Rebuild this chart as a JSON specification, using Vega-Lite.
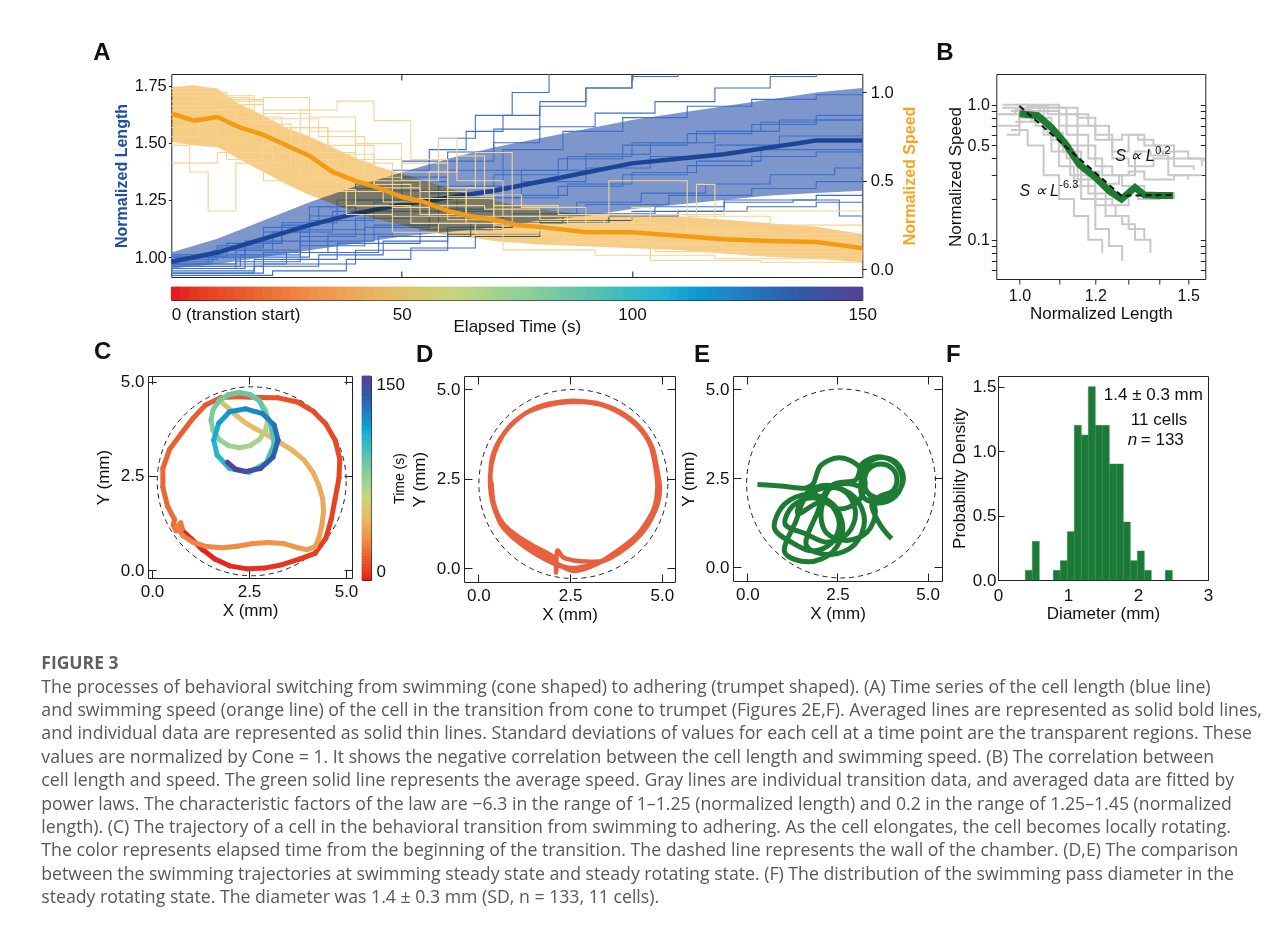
{
"$schema": "https://vega.github.io/schema/vega-lite/v6.json",
"background": "white",
"padding": {"left": 41, "top": 40, "right": 5, "bottom": 5},
"config": {
  "font": "Liberation Sans",
  "view": {"stroke": "#222222", "strokeWidth": 1},
  "axis": {"labelFontSize": 17, "titleFontSize": 17, "titleFontWeight": "normal", "labelColor": "#111111", "titleColor": "#111111", "domain": false, "grid": false, "tickColor": "#222222", "labelFlush": false, "labelOverlap": false},
  "title": {"fontSize": 24, "fontWeight": "bold", "anchor": "start", "frame": "group", "color": "#111111", "baseline": "alphabetic"}
},
"datasets": {
  "blueband": [
    {"t":0,"lo":0.95,"hi":1.02,"m":0.98},{"t":10,"lo":0.97,"hi":1.08,"m":1.02},{"t":20,"lo":1.0,"hi":1.16,"m":1.08},{"t":30,"lo":1.03,"hi":1.24,"m":1.14},
    {"t":40,"lo":1.06,"hi":1.31,"m":1.19},{"t":50,"lo":1.09,"hi":1.37,"m":1.23},{"t":60,"lo":1.11,"hi":1.43,"m":1.26},{"t":70,"lo":1.13,"hi":1.48,"m":1.29},
    {"t":80,"lo":1.16,"hi":1.52,"m":1.33},{"t":90,"lo":1.18,"hi":1.56,"m":1.37},{"t":100,"lo":1.21,"hi":1.6,"m":1.41},{"t":110,"lo":1.23,"hi":1.63,"m":1.43},
    {"t":120,"lo":1.25,"hi":1.66,"m":1.45},{"t":130,"lo":1.27,"hi":1.69,"m":1.48},{"t":140,"lo":1.28,"hi":1.72,"m":1.51},{"t":150,"lo":1.29,"hi":1.74,"m":1.51}
  ],
  "orangeband": [
    {"t":0,"lo":0.72,"hi":1.03,"m":0.88},{"t":5,"lo":0.7,"hi":1.04,"m":0.84},{"t":10,"lo":0.69,"hi":1.02,"m":0.86},{"t":15,"lo":0.62,"hi":0.93,"m":0.8},
    {"t":20,"lo":0.55,"hi":0.87,"m":0.76},{"t":25,"lo":0.48,"hi":0.8,"m":0.7},{"t":30,"lo":0.42,"hi":0.75,"m":0.64},{"t":35,"lo":0.37,"hi":0.69,"m":0.55},
    {"t":40,"lo":0.32,"hi":0.63,"m":0.5},{"t":45,"lo":0.28,"hi":0.58,"m":0.46},{"t":50,"lo":0.25,"hi":0.54,"m":0.41},{"t":55,"lo":0.22,"hi":0.5,"m":0.38},
    {"t":60,"lo":0.19,"hi":0.46,"m":0.33},{"t":65,"lo":0.18,"hi":0.42,"m":0.3},{"t":70,"lo":0.16,"hi":0.39,"m":0.28},{"t":75,"lo":0.15,"hi":0.36,"m":0.25},
    {"t":80,"lo":0.14,"hi":0.34,"m":0.24},{"t":90,"lo":0.13,"hi":0.31,"m":0.21},{"t":100,"lo":0.12,"hi":0.3,"m":0.21},{"t":110,"lo":0.11,"hi":0.3,"m":0.19},
    {"t":120,"lo":0.09,"hi":0.28,"m":0.17},{"t":130,"lo":0.07,"hi":0.26,"m":0.16},{"t":140,"lo":0.06,"hi":0.24,"m":0.155},{"t":150,"lo":0.04,"hi":0.2,"m":0.12}
  ],
  "bluelines": [
    {"id":1,"t":0,"v":0.97},{"id":1,"t":8,"v":1.0},{"id":1,"t":16,"v":1.06},{"id":1,"t":24,"v":1.14},{"id":1,"t":32,"v":1.22},{"id":1,"t":40,"v":1.3},{"id":1,"t":48,"v":1.38},{"id":1,"t":56,"v":1.47},{"id":1,"t":64,"v":1.55},{"id":1,"t":72,"v":1.62},{"id":1,"t":80,"v":1.68},{"id":1,"t":90,"v":1.74},{"id":1,"t":100,"v":1.79},{"id":1,"t":110,"v":1.83},
    {"id":2,"t":0,"v":1.0},{"id":2,"t":10,"v":1.04},{"id":2,"t":20,"v":1.11},{"id":2,"t":30,"v":1.18},{"id":2,"t":40,"v":1.25},{"id":2,"t":50,"v":1.33},{"id":2,"t":60,"v":1.42},{"id":2,"t":70,"v":1.5},{"id":2,"t":80,"v":1.57},{"id":2,"t":92,"v":1.63},{"id":2,"t":105,"v":1.68},{"id":2,"t":118,"v":1.74},{"id":2,"t":130,"v":1.79},{"id":2,"t":140,"v":1.82},
    {"id":3,"t":0,"v":0.96},{"id":3,"t":15,"v":1.01},{"id":3,"t":28,"v":1.09},{"id":3,"t":40,"v":1.17},{"id":3,"t":52,"v":1.24},{"id":3,"t":64,"v":1.31},{"id":3,"t":76,"v":1.38},{"id":3,"t":90,"v":1.45},{"id":3,"t":104,"v":1.5},{"id":3,"t":118,"v":1.55},{"id":3,"t":132,"v":1.6},{"id":3,"t":150,"v":1.62},
    {"id":4,"t":0,"v":0.95},{"id":4,"t":14,"v":0.98},{"id":4,"t":28,"v":1.05},{"id":4,"t":42,"v":1.13},{"id":4,"t":56,"v":1.2},{"id":4,"t":70,"v":1.26},{"id":4,"t":84,"v":1.31},{"id":4,"t":98,"v":1.36},{"id":4,"t":112,"v":1.4},{"id":4,"t":126,"v":1.44},{"id":4,"t":140,"v":1.46},{"id":4,"t":150,"v":1.47},
    {"id":5,"t":0,"v":0.93},{"id":5,"t":18,"v":0.96},{"id":5,"t":32,"v":1.01},{"id":5,"t":46,"v":1.07},{"id":5,"t":60,"v":1.13},{"id":5,"t":74,"v":1.19},{"id":5,"t":88,"v":1.24},{"id":5,"t":102,"v":1.28},{"id":5,"t":116,"v":1.32},{"id":5,"t":130,"v":1.36},{"id":5,"t":144,"v":1.39},{"id":5,"t":150,"v":1.4},
    {"id":6,"t":0,"v":0.92},{"id":6,"t":22,"v":0.94},{"id":6,"t":38,"v":0.99},{"id":6,"t":52,"v":1.04},{"id":6,"t":66,"v":1.09},{"id":6,"t":80,"v":1.15},{"id":6,"t":95,"v":1.18},{"id":6,"t":110,"v":1.2},{"id":6,"t":125,"v":1.22},{"id":6,"t":140,"v":1.24},{"id":6,"t":150,"v":1.24},
    {"id":7,"t":0,"v":0.98},{"id":7,"t":9,"v":1.03},{"id":7,"t":22,"v":1.11},{"id":7,"t":35,"v":1.2},{"id":7,"t":48,"v":1.29},{"id":7,"t":60,"v":1.38},{"id":7,"t":72,"v":1.47},{"id":7,"t":85,"v":1.55},{"id":7,"t":98,"v":1.61},{"id":7,"t":112,"v":1.66},{"id":7,"t":126,"v":1.69},{"id":7,"t":140,"v":1.71},{"id":7,"t":150,"v":1.72},
    {"id":8,"t":0,"v":1.01},{"id":8,"t":16,"v":1.07},{"id":8,"t":30,"v":1.16},{"id":8,"t":44,"v":1.24},{"id":8,"t":58,"v":1.31},{"id":8,"t":72,"v":1.38},{"id":8,"t":86,"v":1.44},{"id":8,"t":100,"v":1.5},{"id":8,"t":114,"v":1.55},{"id":8,"t":128,"v":1.59},{"id":8,"t":140,"v":1.62},{"id":8,"t":150,"v":1.63},
    {"id":9,"t":0,"v":0.97},{"id":9,"t":25,"v":1.02},{"id":9,"t":45,"v":1.09},{"id":9,"t":65,"v":1.15},{"id":9,"t":85,"v":1.19},{"id":9,"t":105,"v":1.22},{"id":9,"t":120,"v":1.24},{"id":9,"t":135,"v":1.25},{"id":9,"t":145,"v":1.18},{"id":9,"t":150,"v":1.18},
    {"id":10,"t":0,"v":0.94},{"id":10,"t":18,"v":0.99},{"id":10,"t":36,"v":1.06},{"id":10,"t":54,"v":1.12},{"id":10,"t":72,"v":1.18},{"id":10,"t":90,"v":1.23},{"id":10,"t":108,"v":1.27},{"id":10,"t":126,"v":1.3},{"id":10,"t":140,"v":1.33},{"id":10,"t":150,"v":1.35},
    {"id":11,"t":0,"v":1.0},{"id":11,"t":12,"v":1.06},{"id":11,"t":24,"v":1.15},{"id":11,"t":36,"v":1.25},{"id":11,"t":48,"v":1.35},{"id":11,"t":60,"v":1.46},{"id":11,"t":70,"v":1.56},{"id":11,"t":80,"v":1.66},{"id":11,"t":90,"v":1.74},{"id":11,"t":100,"v":1.8},
    {"id":12,"t":0,"v":0.96},{"id":12,"t":20,"v":1.02},{"id":12,"t":34,"v":1.1},{"id":12,"t":48,"v":1.18},{"id":12,"t":62,"v":1.26},{"id":12,"t":76,"v":1.33},{"id":12,"t":90,"v":1.39},{"id":12,"t":104,"v":1.44},{"id":12,"t":118,"v":1.49},{"id":12,"t":132,"v":1.53},{"id":12,"t":150,"v":1.56},
    {"id":13,"t":0,"v":0.99},{"id":13,"t":10,"v":1.05},{"id":13,"t":20,"v":1.13},{"id":13,"t":30,"v":1.22},{"id":13,"t":40,"v":1.32},{"id":13,"t":50,"v":1.42},{"id":13,"t":58,"v":1.52},{"id":13,"t":66,"v":1.62},{"id":13,"t":74,"v":1.72},{"id":13,"t":82,"v":1.8},
    {"id":14,"t":0,"v":0.95},{"id":14,"t":16,"v":1.0},{"id":14,"t":30,"v":1.07},{"id":14,"t":44,"v":1.14},{"id":14,"t":58,"v":1.21},{"id":14,"t":72,"v":1.27},{"id":14,"t":86,"v":1.32},{"id":14,"t":100,"v":1.37},{"id":14,"t":114,"v":1.42},{"id":14,"t":128,"v":1.47},{"id":14,"t":150,"v":1.52},
    {"id":15,"t":0,"v":0.97},{"id":15,"t":14,"v":1.03},{"id":15,"t":28,"v":1.12},{"id":15,"t":42,"v":1.2},{"id":15,"t":56,"v":1.28},{"id":15,"t":70,"v":1.36},{"id":15,"t":84,"v":1.43},{"id":15,"t":98,"v":1.49},{"id":15,"t":112,"v":1.54},{"id":15,"t":126,"v":1.58},{"id":15,"t":140,"v":1.6},{"id":15,"t":150,"v":1.61},
    {"id":16,"t":0,"v":0.93},{"id":16,"t":20,"v":0.97},{"id":16,"t":40,"v":1.03},{"id":16,"t":60,"v":1.1},{"id":16,"t":80,"v":1.16},{"id":16,"t":100,"v":1.2},{"id":16,"t":120,"v":1.25},{"id":16,"t":140,"v":1.27},{"id":16,"t":150,"v":1.28}
  ],
  "orangelines": [
    {"id":1,"t":0,"v":0.95},{"id":1,"t":6,"v":0.9},{"id":1,"t":14,"v":0.84},{"id":1,"t":22,"v":0.6},{"id":1,"t":26,"v":0.8},{"id":1,"t":34,"v":0.7},{"id":1,"t":44,"v":0.5},{"id":1,"t":54,"v":0.44},{"id":1,"t":64,"v":0.3},{"id":1,"t":74,"v":0.25},{"id":1,"t":90,"v":0.2},{"id":1,"t":110,"v":0.15},{"id":1,"t":130,"v":0.12},{"id":1,"t":150,"v":0.1},
    {"id":2,"t":0,"v":0.7},{"id":2,"t":4,"v":0.55},{"id":2,"t":8,"v":0.33},{"id":2,"t":14,"v":0.6},{"id":2,"t":22,"v":0.85},{"id":2,"t":32,"v":0.75},{"id":2,"t":42,"v":0.52},{"id":2,"t":50,"v":0.55},{"id":2,"t":60,"v":0.4},{"id":2,"t":70,"v":0.22},{"id":2,"t":85,"v":0.16},{"id":2,"t":105,"v":0.1},{"id":2,"t":125,"v":0.08},{"id":2,"t":150,"v":0.05},
    {"id":3,"t":0,"v":1.0},{"id":3,"t":12,"v":0.95},{"id":3,"t":20,"v":0.7},{"id":3,"t":28,"v":0.9},{"id":3,"t":36,"v":0.95},{"id":3,"t":44,"v":0.84},{"id":3,"t":52,"v":0.62},{"id":3,"t":60,"v":0.46},{"id":3,"t":66,"v":0.66},{"id":3,"t":74,"v":0.3},{"id":3,"t":86,"v":0.26},{"id":3,"t":105,"v":0.21},{"id":3,"t":125,"v":0.18},{"id":3,"t":150,"v":0.15},
    {"id":4,"t":0,"v":0.98},{"id":4,"t":9,"v":0.9},{"id":4,"t":18,"v":0.76},{"id":4,"t":28,"v":0.52},{"id":4,"t":38,"v":0.36},{"id":4,"t":48,"v":0.3},{"id":4,"t":56,"v":0.55},{"id":4,"t":62,"v":0.64},{"id":4,"t":68,"v":0.42},{"id":4,"t":76,"v":0.35},{"id":4,"t":90,"v":0.3},{"id":4,"t":95,"v":0.5},{"id":4,"t":110,"v":0.5},{"id":4,"t":112,"v":0.3},{"id":4,"t":130,"v":0.25},{"id":4,"t":150,"v":0.2},
    {"id":5,"t":0,"v":0.9},{"id":5,"t":14,"v":0.86},{"id":5,"t":24,"v":0.8},{"id":5,"t":34,"v":0.56},{"id":5,"t":44,"v":0.46},{"id":5,"t":54,"v":0.31},{"id":5,"t":64,"v":0.26},{"id":5,"t":80,"v":0.21},{"id":5,"t":100,"v":0.18},{"id":5,"t":112,"v":0.3},{"id":5,"t":114,"v":0.48},{"id":5,"t":118,"v":0.2},{"id":5,"t":135,"v":0.16},{"id":5,"t":150,"v":0.13},
    {"id":6,"t":0,"v":0.6},{"id":6,"t":10,"v":0.66},{"id":6,"t":20,"v":0.5},{"id":6,"t":30,"v":0.45},{"id":6,"t":40,"v":0.36},{"id":6,"t":52,"v":0.26},{"id":6,"t":66,"v":0.2},{"id":6,"t":84,"v":0.15},{"id":6,"t":104,"v":0.05},{"id":6,"t":128,"v":0.04},{"id":6,"t":150,"v":0.02},
    {"id":7,"t":0,"v":0.85},{"id":7,"t":12,"v":0.93},{"id":7,"t":20,"v":0.97},{"id":7,"t":30,"v":0.86},{"id":7,"t":40,"v":0.71},{"id":7,"t":50,"v":0.6},{"id":7,"t":60,"v":0.41},{"id":7,"t":70,"v":0.36},{"id":7,"t":84,"v":0.31},{"id":7,"t":100,"v":0.31},{"id":7,"t":120,"v":0.33},{"id":7,"t":150,"v":0.3},
    {"id":8,"t":0,"v":1.02},{"id":8,"t":8,"v":0.97},{"id":8,"t":17,"v":0.66},{"id":8,"t":27,"v":0.56},{"id":8,"t":38,"v":0.31},{"id":8,"t":48,"v":0.21},{"id":8,"t":58,"v":0.26},{"id":8,"t":72,"v":0.11},{"id":8,"t":92,"v":0.08},{"id":8,"t":118,"v":0.06},{"id":8,"t":150,"v":0.05},
    {"id":9,"t":0,"v":0.8},{"id":9,"t":10,"v":0.74},{"id":9,"t":20,"v":0.88},{"id":9,"t":30,"v":0.66},{"id":9,"t":40,"v":0.6},{"id":9,"t":48,"v":0.35},{"id":9,"t":56,"v":0.3},{"id":9,"t":64,"v":0.46},{"id":9,"t":70,"v":0.25},{"id":9,"t":82,"v":0.2},{"id":9,"t":100,"v":0.14},{"id":9,"t":120,"v":0.12},{"id":9,"t":150,"v":0.08},
    {"id":10,"t":0,"v":0.92},{"id":10,"t":10,"v":0.98},{"id":10,"t":18,"v":0.82},{"id":10,"t":26,"v":0.62},{"id":10,"t":36,"v":0.44},{"id":10,"t":46,"v":0.38},{"id":10,"t":56,"v":0.36},{"id":10,"t":68,"v":0.34},{"id":10,"t":80,"v":0.28},{"id":10,"t":94,"v":0.24},{"id":10,"t":110,"v":0.22},{"id":10,"t":130,"v":0.2},{"id":10,"t":150,"v":0.18},
    {"id":11,"t":0,"v":0.75},{"id":11,"t":6,"v":0.85},{"id":11,"t":12,"v":0.62},{"id":11,"t":20,"v":0.7},{"id":11,"t":30,"v":0.52},{"id":11,"t":38,"v":0.65},{"id":11,"t":44,"v":0.48},{"id":11,"t":52,"v":0.4},{"id":11,"t":60,"v":0.28},{"id":11,"t":72,"v":0.22},{"id":11,"t":85,"v":0.18},{"id":11,"t":100,"v":0.35},{"id":11,"t":104,"v":0.15},{"id":11,"t":125,"v":0.1},{"id":11,"t":150,"v":0.06},
    {"id":12,"t":0,"v":1.02},{"id":12,"t":10,"v":0.96},{"id":12,"t":20,"v":0.9},{"id":12,"t":30,"v":0.78},{"id":12,"t":40,"v":0.62},{"id":12,"t":50,"v":0.5},{"id":12,"t":58,"v":0.74},{"id":12,"t":62,"v":0.5},{"id":12,"t":72,"v":0.3},{"id":12,"t":90,"v":0.22},{"id":12,"t":110,"v":0.18},{"id":12,"t":130,"v":0.1},{"id":12,"t":150,"v":0.08}
  ],
  "cbar": [
    {"t0":0,"t1":2},{"t0":2,"t1":4},{"t0":4,"t1":6},{"t0":6,"t1":8},{"t0":8,"t1":10},{"t0":10,"t1":12},{"t0":12,"t1":14},{"t0":14,"t1":16},{"t0":16,"t1":18},{"t0":18,"t1":20},
    {"t0":20,"t1":22},{"t0":22,"t1":24},{"t0":24,"t1":26},{"t0":26,"t1":28},{"t0":28,"t1":30},{"t0":30,"t1":32},{"t0":32,"t1":34},{"t0":34,"t1":36},{"t0":36,"t1":38},{"t0":38,"t1":40},
    {"t0":40,"t1":42},{"t0":42,"t1":44},{"t0":44,"t1":46},{"t0":46,"t1":48},{"t0":48,"t1":50},{"t0":50,"t1":52},{"t0":52,"t1":54},{"t0":54,"t1":56},{"t0":56,"t1":58},{"t0":58,"t1":60},
    {"t0":60,"t1":62},{"t0":62,"t1":64},{"t0":64,"t1":66},{"t0":66,"t1":68},{"t0":68,"t1":70},{"t0":70,"t1":72},{"t0":72,"t1":74},{"t0":74,"t1":76},{"t0":76,"t1":78},{"t0":78,"t1":80},
    {"t0":80,"t1":82},{"t0":82,"t1":84},{"t0":84,"t1":86},{"t0":86,"t1":88},{"t0":88,"t1":90},{"t0":90,"t1":92},{"t0":92,"t1":94},{"t0":94,"t1":96},{"t0":96,"t1":98},{"t0":98,"t1":100},
    {"t0":100,"t1":102},{"t0":102,"t1":104},{"t0":104,"t1":106},{"t0":106,"t1":108},{"t0":108,"t1":110},{"t0":110,"t1":112},{"t0":112,"t1":114},{"t0":114,"t1":116},{"t0":116,"t1":118},{"t0":118,"t1":120},
    {"t0":120,"t1":122},{"t0":122,"t1":124},{"t0":124,"t1":126},{"t0":126,"t1":128},{"t0":128,"t1":130},{"t0":130,"t1":132},{"t0":132,"t1":134},{"t0":134,"t1":136},{"t0":136,"t1":138},{"t0":138,"t1":140},
    {"t0":140,"t1":142},{"t0":142,"t1":144},{"t0":144,"t1":146},{"t0":146,"t1":148},{"t0":148,"t1":150}
  ],
  "bgray": [
    {"id":1,"L":0.96,"S":0.95},{"id":1,"L":1.0,"S":1.0},{"id":1,"L":1.05,"S":0.9},{"id":1,"L":1.1,"S":0.7},{"id":1,"L":1.15,"S":0.5},{"id":1,"L":1.2,"S":0.35},{"id":1,"L":1.25,"S":0.3},{"id":1,"L":1.3,"S":0.32},{"id":1,"L":1.35,"S":0.28},{"id":1,"L":1.45,"S":0.3},{"id":1,"L":1.55,"S":0.3},
    {"id":2,"L":0.97,"S":0.85},{"id":2,"L":1.02,"S":0.95},{"id":2,"L":1.06,"S":0.6},{"id":2,"L":1.1,"S":0.35},{"id":2,"L":1.14,"S":0.25},{"id":2,"L":1.2,"S":0.18},{"id":2,"L":1.26,"S":0.15},{"id":2,"L":1.3,"S":0.12},{"id":2,"L":1.35,"S":0.1},
    {"id":3,"L":0.95,"S":0.7},{"id":3,"L":1.0,"S":0.9},{"id":3,"L":1.05,"S":0.95},{"id":3,"L":1.1,"S":0.85},{"id":3,"L":1.15,"S":0.7},{"id":3,"L":1.2,"S":0.55},{"id":3,"L":1.25,"S":0.45},{"id":3,"L":1.3,"S":0.6},{"id":3,"L":1.35,"S":0.5},{"id":3,"L":1.4,"S":0.45},{"id":3,"L":1.5,"S":0.4},{"id":3,"L":1.56,"S":0.38},
    {"id":4,"L":0.98,"S":0.9},{"id":4,"L":1.03,"S":0.8},{"id":4,"L":1.08,"S":0.55},{"id":4,"L":1.12,"S":0.4},{"id":4,"L":1.16,"S":0.2},{"id":4,"L":1.2,"S":0.12},{"id":4,"L":1.24,"S":0.09},{"id":4,"L":1.28,"S":0.07},
    {"id":5,"L":0.96,"S":1.0},{"id":5,"L":1.02,"S":0.98},{"id":5,"L":1.07,"S":0.85},{"id":5,"L":1.12,"S":0.6},{"id":5,"L":1.18,"S":0.4},{"id":5,"L":1.22,"S":0.3},{"id":5,"L":1.28,"S":0.25},{"id":5,"L":1.33,"S":0.2},{"id":5,"L":1.4,"S":0.22},{"id":5,"L":1.45,"S":0.2},
    {"id":6,"L":0.99,"S":0.75},{"id":6,"L":1.04,"S":0.7},{"id":6,"L":1.08,"S":0.45},{"id":6,"L":1.13,"S":0.3},{"id":6,"L":1.18,"S":0.22},{"id":6,"L":1.23,"S":0.15},{"id":6,"L":1.28,"S":0.13},{"id":6,"L":1.32,"S":0.1},{"id":6,"L":1.37,"S":0.08},
    {"id":7,"L":1.0,"S":0.95},{"id":7,"L":1.05,"S":1.0},{"id":7,"L":1.1,"S":0.95},{"id":7,"L":1.15,"S":0.8},{"id":7,"L":1.2,"S":0.6},{"id":7,"L":1.25,"S":0.4},{"id":7,"L":1.3,"S":0.35},{"id":7,"L":1.38,"S":0.4},{"id":7,"L":1.45,"S":0.35},{"id":7,"L":1.52,"S":0.33},
    {"id":8,"L":0.97,"S":0.6},{"id":8,"L":1.0,"S":0.8},{"id":8,"L":1.04,"S":0.9},{"id":8,"L":1.1,"S":0.5},{"id":8,"L":1.15,"S":0.28},{"id":8,"L":1.2,"S":0.2},{"id":8,"L":1.25,"S":0.18},{"id":8,"L":1.3,"S":0.25},{"id":8,"L":1.35,"S":0.22},
    {"id":9,"L":1.0,"S":0.9},{"id":9,"L":1.06,"S":0.95},{"id":9,"L":1.12,"S":0.85},{"id":9,"L":1.18,"S":0.7},{"id":9,"L":1.24,"S":0.55},{"id":9,"L":1.28,"S":0.6},{"id":9,"L":1.33,"S":0.55},{"id":9,"L":1.38,"S":0.5},{"id":9,"L":1.45,"S":0.4},{"id":9,"L":1.55,"S":0.35},
    {"id":10,"L":0.98,"S":0.65},{"id":10,"L":1.02,"S":0.5},{"id":10,"L":1.06,"S":0.3},{"id":10,"L":1.1,"S":0.2},{"id":10,"L":1.14,"S":0.15},{"id":10,"L":1.18,"S":0.1},{"id":10,"L":1.22,"S":0.08},
    {"id":11,"L":0.95,"S":0.85},{"id":11,"L":0.99,"S":0.92},{"id":11,"L":1.03,"S":0.75},{"id":11,"L":1.07,"S":0.62},{"id":11,"L":1.11,"S":0.45},{"id":11,"L":1.16,"S":0.32},{"id":11,"L":1.21,"S":0.26},{"id":11,"L":1.27,"S":0.3},{"id":11,"L":1.32,"S":0.45},{"id":11,"L":1.37,"S":0.42},{"id":11,"L":1.43,"S":0.3},{"id":11,"L":1.5,"S":0.28}
  ],
  "bgreen": [
    {"L":1.0,"S":0.86},{"L":1.045,"S":0.83},{"L":1.08,"S":0.68},{"L":1.118,"S":0.51},{"L":1.155,"S":0.36},{"L":1.2,"S":0.29},{"L":1.241,"S":0.23},{"L":1.278,"S":0.2},{"L":1.32,"S":0.244},{"L":1.35,"S":0.215},{"L":1.4,"S":0.213},{"L":1.447,"S":0.213}
  ],
  "bfit": [
    {"L":1.0,"S":0.98},{"L":1.278,"S":0.212},{"L":1.447,"S":0.215}
  ],
  "btext": [
    {"L":1.259,"S":0.419,"txt":"S ∝ L","k":"main"},{"L":1.386,"S":0.456,"txt":"0.2","k":"sup"},
    {"L":1.0,"S":0.2306,"txt":"S ∝ L","k":"main"},{"L":1.1007,"S":0.255,"txt":"-6.3","k":"sup"}
  ],
  "chamberC": [{"x":2.57,"y":2.36}],
  "chamberD": [{"x":2.59,"y":2.35}],
  "chamberE": [{"x":2.6,"y":2.35}],
  "ctraj": [
    {"t":0.0,"x":0.73,"y":1.1},{"t":0.7,"x":1.0,"y":0.85},{"t":1.3,"x":1.3,"y":0.55},{"t":2.0,"x":1.62,"y":0.3},{"t":2.6,"x":2.0,"y":0.12},{"t":3.3,"x":2.45,"y":0.04},
    {"t":3.9,"x":2.9,"y":0.06},{"t":4.6,"x":3.35,"y":0.15},{"t":5.2,"x":3.8,"y":0.3},{"t":5.9,"x":4.2,"y":0.45},{"t":6.5,"x":4.48,"y":0.85},{"t":7.2,"x":4.62,"y":1.35},
    {"t":7.8,"x":4.72,"y":1.9},{"t":8.5,"x":4.82,"y":2.45},{"t":9.1,"x":4.84,"y":2.95},{"t":9.8,"x":4.72,"y":3.45},{"t":10.4,"x":4.48,"y":3.88},{"t":11.1,"x":4.15,"y":4.22},
    {"t":11.7,"x":3.75,"y":4.46},{"t":12.4,"x":3.25,"y":4.57},{"t":13.0,"x":2.75,"y":4.58},{"t":13.7,"x":2.25,"y":4.6},{"t":14.3,"x":1.78,"y":4.58},{"t":15.0,"x":1.38,"y":4.38},
    {"t":15.6,"x":1.05,"y":4.02},{"t":16.3,"x":0.75,"y":3.62},{"t":16.9,"x":0.45,"y":3.2},{"t":17.6,"x":0.28,"y":2.7},{"t":18.2,"x":0.28,"y":2.2},{"t":18.9,"x":0.4,"y":1.7},
    {"t":19.5,"x":0.58,"y":1.35},{"t":20.5,"x":0.55,"y":1.2},{"t":21.5,"x":0.62,"y":1.05},{"t":22.5,"x":0.78,"y":1.1},{"t":23.5,"x":0.74,"y":1.26},{"t":24.5,"x":0.64,"y":1.16},
    {"t":25.5,"x":0.8,"y":0.92},{"t":26.5,"x":1.05,"y":0.75},{"t":27.5,"x":1.4,"y":0.63},{"t":28.5,"x":1.8,"y":0.6},{"t":29.5,"x":2.2,"y":0.64},{"t":30.5,"x":2.6,"y":0.71},
    {"t":31.5,"x":3.0,"y":0.74},{"t":32.5,"x":3.4,"y":0.71},{"t":33.5,"x":3.75,"y":0.6},{"t":34.5,"x":4.0,"y":0.55},{"t":35.5,"x":4.2,"y":0.62},{"t":36.5,"x":4.3,"y":0.85},
    {"t":37.5,"x":4.38,"y":1.2},{"t":38.5,"x":4.42,"y":1.55},{"t":39.5,"x":4.4,"y":1.9},{"t":40.5,"x":4.3,"y":2.25},{"t":41.5,"x":4.15,"y":2.6},{"t":42.5,"x":3.92,"y":2.92},
    {"t":43.5,"x":3.62,"y":3.18},{"t":44.5,"x":3.28,"y":3.4},{"t":45.5,"x":2.95,"y":3.6},{"t":46.5,"x":2.65,"y":3.76},{"t":47.5,"x":2.38,"y":3.93},{"t":48.5,"x":2.15,"y":4.12},
    {"t":49.5,"x":1.95,"y":4.32},{"t":52,"x":1.734,"y":4.496},{"t":54,"x":1.971,"y":4.655},{"t":56,"x":2.25,"y":4.71},{"t":58,"x":2.529,"y":4.655},{"t":60,"x":2.766,"y":4.496},
    {"t":62,"x":2.925,"y":4.26},{"t":64,"x":2.98,"y":3.98},{"t":66,"x":2.925,"y":3.7},{"t":68,"x":2.766,"y":3.464},{"t":70,"x":2.529,"y":3.305},{"t":72,"x":2.25,"y":3.25},
    {"t":74,"x":1.971,"y":3.305},{"t":76,"x":1.734,"y":3.464},{"t":78,"x":1.575,"y":3.7},{"t":80,"x":1.52,"y":3.98},{"t":82,"x":1.575,"y":4.26},{"t":84,"x":1.734,"y":4.496},
    {"t":85,"x":1.971,"y":4.655},{"t":86,"x":2.25,"y":4.71},{"t":87,"x":2.529,"y":4.655},{"t":88,"x":2.766,"y":4.496},{"t":90,"x":3.05,"y":3.9},{"t":93,"x":3.15,"y":3.35},
    {"t":96,"x":2.95,"y":2.85},{"t":99,"x":2.5,"y":2.6},{"t":102,"x":2.0,"y":2.7},{"t":105,"x":1.68,"y":3.05},{"t":108,"x":1.59,"y":3.45},{"t":112,"x":1.72,"y":3.9},
    {"t":116,"x":2.0,"y":4.2},{"t":120,"x":2.42,"y":4.28},{"t":124,"x":2.85,"y":4.15},{"t":128,"x":3.15,"y":3.85},{"t":132,"x":3.25,"y":3.45},{"t":136,"x":3.12,"y":3.0},
    {"t":140,"x":2.8,"y":2.7},{"t":144,"x":2.42,"y":2.62},{"t":147,"x":2.15,"y":2.68},{"t":150,"x":1.94,"y":2.87}
  ],
  "dtraj": [
    {"i":0,"x":2.6,"y":4.66},{"i":1,"x":3.3,"y":4.58},{"i":2,"x":3.9,"y":4.32},{"i":3,"x":4.4,"y":3.92},{"i":4,"x":4.72,"y":3.42},{"i":5,"x":4.85,"y":2.9},
    {"i":6,"x":4.93,"y":2.3},{"i":7,"x":4.85,"y":1.7},{"i":8,"x":4.55,"y":1.1},{"i":9,"x":4.1,"y":0.62},{"i":10,"x":3.6,"y":0.28},{"i":11,"x":3.05,"y":0.08},
    {"i":12,"x":2.55,"y":0.0},{"i":13,"x":2.15,"y":0.12},{"i":14,"x":1.6,"y":0.5},{"i":15,"x":1.0,"y":0.9},{"i":16,"x":0.6,"y":1.35},{"i":17,"x":0.4,"y":1.9},
    {"i":18,"x":0.33,"y":2.5},{"i":19,"x":0.38,"y":3.1},{"i":20,"x":0.6,"y":3.62},{"i":21,"x":0.95,"y":4.05},{"i":22,"x":1.4,"y":4.4},{"i":23,"x":1.95,"y":4.6},
    {"i":24,"x":2.6,"y":4.68},{"i":25,"x":3.25,"y":4.6},{"i":26,"x":3.88,"y":4.36},{"i":27,"x":4.38,"y":3.96},{"i":28,"x":4.7,"y":3.46},{"i":29,"x":4.86,"y":2.8},
    {"i":30,"x":4.95,"y":2.2},{"i":31,"x":4.82,"y":1.6},{"i":32,"x":4.45,"y":1.05},{"i":33,"x":4.0,"y":0.58},{"i":34,"x":3.45,"y":0.22},{"i":35,"x":2.95,"y":0.18},
    {"i":36,"x":2.35,"y":0.28},{"i":37,"x":2.15,"y":0.48},{"i":38,"x":2.12,"y":-0.12},{"i":39,"x":2.05,"y":0.3},{"i":40,"x":1.5,"y":0.62},{"i":41,"x":0.9,"y":1.02},
    {"i":42,"x":0.5,"y":1.5},{"i":43,"x":0.33,"y":2.2},{"i":44,"x":0.36,"y":2.9},{"i":45,"x":0.55,"y":3.5},{"i":46,"x":0.9,"y":4.02},{"i":47,"x":1.35,"y":4.36},
    {"i":48,"x":1.9,"y":4.56},{"i":49,"x":2.5,"y":4.64},{"i":50,"x":3.2,"y":4.62},{"i":51,"x":3.85,"y":4.34},{"i":52,"x":4.35,"y":3.95},{"i":53,"x":4.68,"y":3.45},
    {"i":54,"x":4.82,"y":2.85},{"i":55,"x":4.88,"y":2.25},{"i":56,"x":4.78,"y":1.65},{"i":57,"x":4.48,"y":1.12},{"i":58,"x":4.2,"y":0.8},{"i":59,"x":3.7,"y":0.42},
    {"i":60,"x":3.2,"y":0.1},{"i":61,"x":2.65,"y":-0.08},{"i":62,"x":2.25,"y":0.05},{"i":63,"x":1.75,"y":0.28},{"i":64,"x":1.1,"y":0.72},{"i":65,"x":0.62,"y":1.22},
    {"i":66,"x":0.42,"y":1.8},{"i":67,"x":0.36,"y":2.4}
  ],
  "etraj": [
    {"i":0,"x":0.28,"y":2.32},{"i":1,"x":0.65,"y":2.3},{"i":2,"x":1.0,"y":2.27},{"i":3,"x":1.35,"y":2.23},{"i":4,"x":1.6,"y":2.22},{"i":5,"x":1.83,"y":2.35},
    {"i":6,"x":2.04,"y":2.86},{"i":7,"x":2.55,"y":3.07},{"i":8,"x":3.06,"y":2.86},{"i":9,"x":3.27,"y":2.35},{"i":10,"x":3.06,"y":1.84},{"i":11,"x":2.55,"y":1.63},{"i":12,"x":2.04,"y":1.84},
    {"i":13,"x":1.4,"y":1.5},{"i":14,"x":1.63,"y":2.07},{"i":15,"x":2.2,"y":2.3},{"i":16,"x":2.77,"y":2.07},{"i":17,"x":3.0,"y":1.5},{"i":18,"x":2.77,"y":0.93},{"i":19,"x":2.2,"y":0.7},{"i":20,"x":1.63,"y":0.93},
    {"i":21,"x":1.05,"y":1.2},{"i":22,"x":1.27,"y":1.73},{"i":23,"x":1.8,"y":1.95},{"i":24,"x":2.33,"y":1.73},{"i":25,"x":2.55,"y":1.2},{"i":26,"x":2.33,"y":0.67},{"i":27,"x":1.8,"y":0.45},{"i":28,"x":1.27,"y":0.67},
    {"i":29,"x":0.75,"y":1.1},{"i":30,"x":1.03,"y":1.77},{"i":31,"x":1.7,"y":2.05},{"i":32,"x":2.37,"y":1.77},{"i":33,"x":2.65,"y":1.1},{"i":34,"x":2.37,"y":0.43},{"i":35,"x":1.7,"y":0.15},{"i":36,"x":1.03,"y":0.43},
    {"i":37,"x":1.35,"y":1.3},{"i":38,"x":1.63,"y":1.97},{"i":39,"x":2.3,"y":2.25},{"i":40,"x":2.97,"y":1.97},{"i":41,"x":3.25,"y":1.3},{"i":42,"x":2.97,"y":0.63},{"i":43,"x":2.3,"y":0.35},{"i":44,"x":1.63,"y":0.63},
    {"i":45,"x":1.95,"y":1.55},{"i":46,"x":2.18,"y":2.12},{"i":47,"x":2.75,"y":2.35},{"i":48,"x":3.32,"y":2.12},{"i":49,"x":3.55,"y":1.55},{"i":50,"x":3.32,"y":0.98},{"i":51,"x":2.75,"y":0.75},{"i":52,"x":2.18,"y":0.98},
    {"i":53,"x":2.05,"y":1.6},{"i":54,"x":2.35,"y":2.3},
    {"i":55,"x":3.0,"y":2.45},{"i":56,"x":3.19,"y":2.91},{"i":57,"x":3.65,"y":3.1},{"i":58,"x":4.11,"y":2.91},{"i":59,"x":4.3,"y":2.45},{"i":60,"x":4.11,"y":1.99},{"i":61,"x":3.65,"y":1.8},{"i":62,"x":3.19,"y":1.99},
    {"i":63,"x":3.17,"y":2.5},{"i":64,"x":3.34,"y":2.91},{"i":65,"x":3.75,"y":3.08},{"i":66,"x":4.16,"y":2.91},{"i":67,"x":4.33,"y":2.5},{"i":68,"x":4.16,"y":2.09},{"i":69,"x":3.75,"y":1.92},{"i":70,"x":3.34,"y":2.09},
    {"i":71,"x":3.25,"y":2.45},{"i":72,"x":3.38,"y":2.77},{"i":73,"x":3.7,"y":2.9},{"i":74,"x":4.02,"y":2.77},{"i":75,"x":4.15,"y":2.45},{"i":76,"x":4.02,"y":2.13},{"i":77,"x":3.7,"y":2.0},
    {"i":78,"x":3.45,"y":1.75},{"i":79,"x":3.62,"y":1.3},{"i":80,"x":3.82,"y":1.0},{"i":81,"x":4.0,"y":0.8}
  ],
  "fhist": [
    {"lo":0.39,"hi":0.49,"d":0.075},{"lo":0.49,"hi":0.59,"d":0.3},{"lo":0.79,"hi":0.89,"d":0.075},{"lo":0.89,"hi":0.99,"d":0.15},{"lo":0.99,"hi":1.09,"d":0.375},
    {"lo":1.09,"hi":1.19,"d":1.2},{"lo":1.19,"hi":1.29,"d":1.125},{"lo":1.29,"hi":1.39,"d":1.5},{"lo":1.39,"hi":1.49,"d":1.2},{"lo":1.49,"hi":1.59,"d":1.2},
    {"lo":1.59,"hi":1.69,"d":0.9},{"lo":1.69,"hi":1.79,"d":0.9},{"lo":1.79,"hi":1.89,"d":0.45},{"lo":1.89,"hi":1.99,"d":0.15},{"lo":1.99,"hi":2.09,"d":0.225},
    {"lo":2.09,"hi":2.19,"d":0.075},{"lo":2.39,"hi":2.49,"d":0.075}
  ],
  "ftext": [
    {"x":2.22,"y":1.434,"txt":"1.4 ± 0.3 mm","k":"c"},{"x":2.3,"y":1.24,"txt":"11 cells","k":"c"},{"x":1.99,"y":1.085,"txt":"n","k":"r"},{"x":2.04,"y":1.085,"txt":"= 133","k":"l"}
  ],
  "caption": [
    {"line":0,"col":0,"kind":"head","txt":"FIGURE 3"},
    {"line":1,"col":0,"kind":"body","txt":"The processes of behavioral switching from swimming (cone shaped) to adhering (trumpet shaped). (A) Time series of the cell length (blue line)"},
    {"line":2,"col":0,"kind":"body","txt":"and swimming speed (orange line) of the cell in the transition from cone to trumpet (Figures 2E,F). Averaged lines are represented as solid bold lines,"},
    {"line":3,"col":0,"kind":"body","txt":"and individual data are represented as solid thin lines. Standard deviations of values for each cell at a time point are the transparent regions. These"},
    {"line":4,"col":0,"kind":"body","txt":"values are normalized by Cone = 1. It shows the negative correlation between the cell length and swimming speed. (B) The correlation between"},
    {"line":5,"col":0,"kind":"body","txt":"cell length and speed. The green solid line represents the average speed. Gray lines are individual transition data, and averaged data are fitted by"},
    {"line":6,"col":0,"kind":"body","txt":"power laws. The characteristic factors of the law are −6.3 in the range of 1–1.25 (normalized length) and 0.2 in the range of 1.25–1.45 (normalized"},
    {"line":7,"col":0,"kind":"body","txt":"length). (C) The trajectory of a cell in the behavioral transition from swimming to adhering. As the cell elongates, the cell becomes locally rotating."},
    {"line":8,"col":0,"kind":"body","txt":"The color represents elapsed time from the beginning of the transition. The dashed line represents the wall of the chamber. (D,E) The comparison"},
    {"line":9,"col":0,"kind":"body","txt":"between the swimming trajectories at swimming steady state and steady rotating state. (F) The distribution of the swimming pass diameter in the"},
    {"line":10,"col":0,"kind":"body","txt":"steady rotating state. The diameter was 1.4 ± 0.3 mm (SD, n = 133, 11 cells)."}
  ]
},
"vconcat": [
  {
    "hconcat": [
      {"width": 1, "height": 1, "view": {"stroke": null}, "data": {"values": [{}]}, "mark": {"type": "point", "opacity": 0}},
      {
        "concat": [
          {
            "vconcat": [
              {
                "title": {"text": "A", "dx": -78, "offset": 9},
                "width": 691, "height": 203,
                "layer": [
                  {"layer": [
                    {"data": {"name": "blueband"}, "mark": {"type": "area", "color": "#6f8bc6", "opacity": 0.9},
                     "encoding": {
                       "x": {"field": "t", "type": "quantitative", "title": null, "scale": {"domain": [0, 150], "nice": false, "zero": false}, "axis": {"orient": "bottom", "values": [50, 100], "labels": false, "tickSize": -6}},
                       "y": {"field": "lo", "type": "quantitative", "title": "Normalized Length", "scale": {"domain": [0.913, 1.801], "nice": false, "zero": false}, "axis": {"values": [1, 1.25, 1.5, 1.75], "format": ".2f", "labelFontSize": 16.5, "tickSize": 3, "labelPadding": 2, "titlePadding": 5, "titleColor": "#1f4fa3", "titleFontWeight": "bold", "titleFontSize": 16}},
                       "y2": {"field": "hi"}
                     }},
                    {"data": {"name": "bluelines"}, "mark": {"type": "line", "interpolate": "step-after", "color": "#3d6fcb", "strokeWidth": 1.1, "clip": true},
                     "encoding": {"x": {"field": "t", "type": "quantitative", "title": null}, "y": {"field": "v", "type": "quantitative", "title": "Normalized Length"}, "detail": {"field": "id", "type": "nominal"}}},
                    {"data": {"name": "blueband"}, "mark": {"type": "line", "color": "#1d4496", "strokeWidth": 4.5},
                     "encoding": {"x": {"field": "t", "type": "quantitative", "title": null}, "y": {"field": "m", "type": "quantitative", "title": "Normalized Length"}}}
                  ]},
                  {"layer": [
                    {"data": {"name": "orangeband"}, "mark": {"type": "area", "color": "#f6c470", "opacity": 0.85, "blend": "multiply"},
                     "encoding": {
                       "x": {"field": "t", "type": "quantitative", "title": null, "scale": {"domain": [0, 150], "nice": false, "zero": false}, "axis": {"orient": "top", "values": [50, 100], "labels": false, "tickSize": -6}},
                       "y": {"field": "lo", "type": "quantitative", "title": "Normalized Speed", "scale": {"domain": [-0.043, 1.103], "nice": false, "zero": false}, "axis": {"orient": "right", "values": [0, 0.5, 1], "format": ".1f", "labelFontSize": 16.5, "tickSize": 4, "labelPadding": 4, "titlePadding": 8, "titleColor": "#f5a623", "titleFontWeight": "bold", "titleFontSize": 16, "titleAngle": 270, "titleBaseline": "top"}},
                       "y2": {"field": "hi"}
                     }},
                    {"data": {"name": "orangelines"}, "mark": {"type": "line", "interpolate": "step-after", "color": "#f6d393", "strokeWidth": 1.1, "clip": true},
                     "encoding": {"x": {"field": "t", "type": "quantitative", "title": null}, "y": {"field": "v", "type": "quantitative", "title": "Normalized Speed"}, "detail": {"field": "id", "type": "nominal"}}},
                    {"data": {"name": "orangeband"}, "mark": {"type": "line", "color": "#f39c12", "strokeWidth": 4.5},
                     "encoding": {"x": {"field": "t", "type": "quantitative", "title": null}, "y": {"field": "m", "type": "quantitative", "title": "Normalized Speed"}}}
                  ]}
                ],
                "resolve": {"scale": {"y": "independent"}, "axis": {"x": "independent"}}
              },
              {
                "width": 691, "height": 13,
                "data": {"name": "cbar"},
                "mark": {"type": "rect", "strokeWidth": 0.8},
                "encoding": {
                  "x": {"field": "t0", "type": "quantitative", "title": "Elapsed Time (s)", "scale": {"domain": [0, 150], "nice": false, "zero": false},
                        "axis": {"values": [0, 50, 100, 150], "ticks": false, "labelPadding": 6, "labelFontSize": 17, "titleFontSize": 17, "titlePadding": -4,
                                 "labelExpr": "datum.value == 0 ? '0 (transtion start)' : datum.label",
                                 "labelAlign": {"condition": {"test": "datum.value == 0", "value": "left"}, "value": "center"}}},
                  "x2": {"field": "t1"},
                  "color": {"field": "t0", "type": "quantitative", "legend": null, "scale": {"domain": [0, 15, 30, 45, 60, 75, 90, 105, 120, 135, 150], "range": ["#e41a1c", "#ec5a2e", "#f09048", "#e9b866", "#c8d47e", "#93cf98", "#5cc2ad", "#27b3d3", "#1f86c8", "#2f5aa8", "#553e92"]}},
                  "stroke": {"field": "t0", "type": "quantitative", "legend": null, "scale": {"domain": [0, 15, 30, 45, 60, 75, 90, 105, 120, 135, 150], "range": ["#e41a1c", "#ec5a2e", "#f09048", "#e9b866", "#c8d47e", "#93cf98", "#5cc2ad", "#27b3d3", "#1f86c8", "#2f5aa8", "#553e92"]}}
                }
              }
            ],
            "spacing": 7
          },
          {
            "title": {"text": "B", "dx": -60, "offset": 9},
            "width": 209, "height": 205,
            "layer": [
              {"layer": [
                {"data": {"name": "bgray"}, "mark": {"type": "line", "interpolate": "step-after", "color": "#c8c8c8", "strokeWidth": 2, "clip": true},
                 "encoding": {
                   "x": {"field": "L", "type": "quantitative", "title": "Normalized Length", "scale": {"type": "log", "domain": [0.946, 1.563], "nice": false},
                         "axis": {"values": [1, 1.1, 1.2, 1.3, 1.4, 1.5], "labelExpr": "(datum.value == 1 || datum.value == 1.2 || datum.value == 1.5) ? format(datum.value, '.1f') : ''", "labelFontSize": 16, "tickSize": 5, "labelPadding": 3, "titlePadding": 2}},
                   "y": {"field": "S", "type": "quantitative", "title": "Normalized Speed", "scale": {"type": "log", "domain": [0.0512, 1.69], "nice": false},
                         "axis": {"values": [0.06, 0.07, 0.08, 0.09, 0.1, 0.2, 0.3, 0.4, 0.5, 0.6, 0.7, 0.8, 0.9, 1], "labelExpr": "(datum.value == 1 || datum.value == 0.5 || datum.value == 0.1) ? format(datum.value, '.1f') : ''", "labelFontSize": 16, "tickSize": 5, "labelPadding": 2, "titlePadding": 3}},
                   "detail": {"field": "id", "type": "nominal"}
                 }},
                {"data": {"name": "bgreen"}, "mark": {"type": "line", "color": "#1e7b31", "strokeWidth": 7},
                 "encoding": {"x": {"field": "L", "type": "quantitative", "title": "Normalized Length"}, "y": {"field": "S", "type": "quantitative", "title": "Normalized Speed"}}},
                {"data": {"name": "bfit"}, "mark": {"type": "line", "color": "#111111", "strokeWidth": 2, "strokeDash": [6, 4]},
                 "encoding": {"x": {"field": "L", "type": "quantitative", "title": "Normalized Length"}, "y": {"field": "S", "type": "quantitative", "title": "Normalized Speed"}}},
                {"data": {"name": "btext"}, "transform": [{"filter": "datum.k == 'main'"}], "mark": {"type": "text", "align": "left", "baseline": "middle", "fontSize": 16, "fontStyle": "italic", "color": "#111111"},
                 "encoding": {"x": {"field": "L", "type": "quantitative", "title": "Normalized Length"}, "y": {"field": "S", "type": "quantitative", "title": "Normalized Speed"}, "text": {"field": "txt"}}},
                {"data": {"name": "btext"}, "transform": [{"filter": "datum.k == 'sup'"}], "mark": {"type": "text", "align": "left", "baseline": "middle", "fontSize": 11, "color": "#111111"},
                 "encoding": {"x": {"field": "L", "type": "quantitative", "title": "Normalized Length"}, "y": {"field": "S", "type": "quantitative", "title": "Normalized Speed"}, "text": {"field": "txt"}}}
              ]},
              {"data": {"name": "bfit"}, "mark": {"type": "point", "opacity": 0},
               "encoding": {
                 "x": {"field": "L", "type": "quantitative", "title": "Normalized Length"},
                 "y": {"field": "S", "type": "quantitative", "title": null, "scale": {"type": "log", "domain": [0.0512, 1.69], "nice": false},
                       "axis": {"orient": "right", "values": [0.06, 0.07, 0.08, 0.09, 0.1, 0.2, 0.3, 0.4, 0.5, 0.6, 0.7, 0.8, 0.9, 1], "labels": false, "tickSize": -5}}
               }}
            ],
            "resolve": {"axis": {"y": "independent"}}
          }
        ],
        "columns": 2,
        "spacing": 17
      }
    ],
    "spacing": -59.7
  },
  {
    "hconcat": [
      {
        "title": {"text": "C", "dx": -54, "offset": 9},
        "width": 204, "height": 202,
        "layer": [
          {"layer": [
            {"data": {"name": "chamberC"}, "mark": {"type": "point", "shape": "circle", "size": 35700, "filled": false, "stroke": "#222222", "strokeWidth": 1, "strokeDash": [5, 4], "opacity": 1},
             "encoding": {
               "x": {"field": "x", "type": "quantitative", "title": "X (mm)", "scale": {"domain": [-0.103, 5.155], "nice": false, "zero": false}, "axis": {"values": [0, 2.5, 5], "format": ".1f", "tickSize": -8, "labelPadding": 13, "titlePadding": 3}},
               "y": {"field": "y", "type": "quantitative", "title": "Y (mm)", "scale": {"domain": [-0.202, 5.149], "nice": false, "zero": false}, "axis": {"values": [0, 2.5, 5], "format": ".1f", "tickSize": -8, "labelPadding": 12, "titlePadding": 8}}
             }},
            {"data": {"name": "ctraj"},
             "transform": [{"window": [{"op": "lead", "field": "x", "as": "x2"}, {"op": "lead", "field": "y", "as": "y2"}], "sort": [{"field": "t", "order": "ascending"}]}, {"filter": "isValid(datum.x2)"}],
             "mark": {"type": "rule", "strokeWidth": 5, "strokeCap": "round"},
             "encoding": {
               "x": {"field": "x", "type": "quantitative", "title": "X (mm)"}, "x2": {"field": "x2"},
               "y": {"field": "y", "type": "quantitative", "title": "Y (mm)"}, "y2": {"field": "y2"},
               "color": {"field": "t", "type": "quantitative", "legend": null, "scale": {"domain": [0, 15, 30, 45, 60, 75, 90, 105, 120, 135, 150], "range": ["#e41a1c", "#ec5a2e", "#f09048", "#e9b866", "#c8d47e", "#93cf98", "#5cc2ad", "#27b3d3", "#1f86c8", "#2f5aa8", "#553e92"]}}
             }}
          ]},
          {"data": {"name": "chamberC"}, "mark": {"type": "point", "opacity": 0},
           "encoding": {
             "x": {"field": "x", "type": "quantitative", "title": null, "scale": {"domain": [-0.103, 5.155], "nice": false, "zero": false}, "axis": {"orient": "top", "values": [0, 2.5, 5], "labels": false, "tickSize": -8}},
             "y": {"field": "y", "type": "quantitative", "title": null, "scale": {"domain": [-0.202, 5.149], "nice": false, "zero": false}, "axis": {"orient": "right", "values": [0, 2.5, 5], "labels": false, "tickSize": -8}}
           }}
        ],
        "resolve": {"axis": {"x": "independent", "y": "independent"}}
      },
      {
        "width": 9, "height": 204,
        "data": {"name": "cbar"},
        "mark": {"type": "rect", "strokeWidth": 0.8},
        "encoding": {
          "y": {"field": "t0", "type": "quantitative", "title": "Time (s)", "scale": {"domain": [0, 150], "nice": false, "zero": false},
                "axis": {"orient": "right", "values": [0, 150], "ticks": false, "labelPadding": 5, "labelFlush": true, "titleFontSize": 14, "titlePadding": -12, "titleAngle": 270, "titleBaseline": "top"}},
          "y2": {"field": "t1"},
          "color": {"field": "t0", "type": "quantitative", "legend": null, "scale": {"domain": [0, 15, 30, 45, 60, 75, 90, 105, 120, 135, 150], "range": ["#e41a1c", "#ec5a2e", "#f09048", "#e9b866", "#c8d47e", "#93cf98", "#5cc2ad", "#27b3d3", "#1f86c8", "#2f5aa8", "#553e92"]}},
          "stroke": {"field": "t0", "type": "quantitative", "legend": null, "scale": {"domain": [0, 15, 30, 45, 60, 75, 90, 105, 120, 135, 150], "range": ["#e41a1c", "#ec5a2e", "#f09048", "#e9b866", "#c8d47e", "#93cf98", "#5cc2ad", "#27b3d3", "#1f86c8", "#2f5aa8", "#553e92"]}}
        }
      },
      {
        "title": {"text": "D", "dx": -48, "offset": 9},
        "width": 211, "height": 206,
        "layer": [
          {"layer": [
            {"data": {"name": "chamberD"}, "mark": {"type": "point", "shape": "circle", "size": 35700, "filled": false, "stroke": "#222222", "strokeWidth": 1, "strokeDash": [5, 4], "opacity": 1},
             "encoding": {
               "x": {"field": "x", "type": "quantitative", "title": "X (mm)", "scale": {"domain": [-0.39, 5.36], "nice": false, "zero": false}, "axis": {"values": [0, 2.5, 5], "format": ".1f", "tickSize": -8, "labelPadding": 13, "titlePadding": 3}},
               "y": {"field": "y", "type": "quantitative", "title": "Y (mm)", "scale": {"domain": [-0.39, 5.37], "nice": false, "zero": false}, "axis": {"values": [0, 2.5, 5], "format": ".1f", "tickSize": -8, "labelPadding": 12, "titlePadding": 8}}
             }},
            {"data": {"name": "dtraj"}, "mark": {"type": "line", "interpolate": "cardinal", "color": "#e8613e", "strokeWidth": 4.5},
             "encoding": {"x": {"field": "x", "type": "quantitative", "title": "X (mm)"}, "y": {"field": "y", "type": "quantitative", "title": "Y (mm)"}, "order": {"field": "i", "type": "quantitative"}}}
          ]},
          {"data": {"name": "chamberD"}, "mark": {"type": "point", "opacity": 0},
           "encoding": {
             "x": {"field": "x", "type": "quantitative", "title": null, "scale": {"domain": [-0.39, 5.36], "nice": false, "zero": false}, "axis": {"orient": "top", "values": [0, 2.5, 5], "labels": false, "tickSize": -8}},
             "y": {"field": "y", "type": "quantitative", "title": null, "scale": {"domain": [-0.39, 5.37], "nice": false, "zero": false}, "axis": {"orient": "right", "values": [0, 2.5, 5], "labels": false, "tickSize": -8}}
           }}
        ],
        "resolve": {"axis": {"x": "independent", "y": "independent"}}
      },
      {
        "title": {"text": "E", "dx": -39, "offset": 9},
        "width": 209, "height": 205,
        "layer": [
          {"layer": [
            {"data": {"name": "chamberE"}, "mark": {"type": "point", "shape": "circle", "size": 35700, "filled": false, "stroke": "#222222", "strokeWidth": 1, "strokeDash": [5, 4], "opacity": 1},
             "encoding": {
               "x": {"field": "x", "type": "quantitative", "title": "X (mm)", "scale": {"domain": [-0.4, 5.4], "nice": false, "zero": false}, "axis": {"values": [0, 2.5, 5], "format": ".1f", "tickSize": -8, "labelPadding": 13, "titlePadding": 3}},
               "y": {"field": "y", "type": "quantitative", "title": "Y (mm)", "scale": {"domain": [-0.39, 5.37], "nice": false, "zero": false}, "axis": {"values": [0, 2.5, 5], "format": ".1f", "tickSize": -8, "labelPadding": 12, "titlePadding": 8}}
             }},
            {"data": {"name": "etraj"}, "mark": {"type": "line", "interpolate": "cardinal", "color": "#1e7b34", "strokeWidth": 5},
             "encoding": {"x": {"field": "x", "type": "quantitative", "title": "X (mm)"}, "y": {"field": "y", "type": "quantitative", "title": "Y (mm)"}, "order": {"field": "i", "type": "quantitative"}}}
          ]},
          {"data": {"name": "chamberE"}, "mark": {"type": "point", "opacity": 0},
           "encoding": {
             "x": {"field": "x", "type": "quantitative", "title": null, "scale": {"domain": [-0.4, 5.4], "nice": false, "zero": false}, "axis": {"orient": "top", "values": [0, 2.5, 5], "labels": false, "tickSize": -8}},
             "y": {"field": "y", "type": "quantitative", "title": null, "scale": {"domain": [-0.39, 5.37], "nice": false, "zero": false}, "axis": {"orient": "right", "values": [0, 2.5, 5], "labels": false, "tickSize": -8}}
           }}
        ],
        "resolve": {"axis": {"x": "independent", "y": "independent"}}
      },
      {
        "title": {"text": "F", "dx": -52, "offset": 9},
        "width": 210, "height": 204,
        "layer": [
          {"data": {"name": "fhist"}, "mark": {"type": "rect", "color": "#1b7a37", "stroke": "#2f8c4a", "strokeWidth": 0.5},
           "encoding": {
             "x": {"field": "lo", "type": "quantitative", "title": "Diameter (mm)", "scale": {"domain": [0, 3], "nice": false, "zero": false}, "axis": {"values": [0, 1, 2, 3], "format": "d", "tickSize": -6, "labelPadding": 13, "titlePadding": 2}},
             "x2": {"field": "hi"},
             "y": {"field": "d", "type": "quantitative", "title": "Probability Density", "scale": {"domain": [0, 1.583], "nice": false}, "axis": {"values": [0, 0.5, 1, 1.5], "format": ".1f", "tickSize": -6, "labelPadding": 8, "titlePadding": 4}},
             "y2": {"datum": 0}
           }},
          {"data": {"name": "ftext"}, "transform": [{"filter": "datum.k == 'c'"}], "mark": {"type": "text", "align": "center", "baseline": "middle", "fontSize": 17, "color": "#111111"},
           "encoding": {"x": {"field": "x", "type": "quantitative", "title": "Diameter (mm)"}, "y": {"field": "y", "type": "quantitative", "title": "Probability Density"}, "text": {"field": "txt"}}},
          {"data": {"name": "ftext"}, "transform": [{"filter": "datum.k == 'r'"}], "mark": {"type": "text", "align": "right", "baseline": "middle", "fontSize": 17, "fontStyle": "italic", "color": "#111111"},
           "encoding": {"x": {"field": "x", "type": "quantitative", "title": "Diameter (mm)"}, "y": {"field": "y", "type": "quantitative", "title": "Probability Density"}, "text": {"field": "txt"}}},
          {"data": {"name": "ftext"}, "transform": [{"filter": "datum.k == 'l'"}], "mark": {"type": "text", "align": "left", "baseline": "middle", "fontSize": 17, "color": "#111111"},
           "encoding": {"x": {"field": "x", "type": "quantitative", "title": "Diameter (mm)"}, "y": {"field": "y", "type": "quantitative", "title": "Probability Density"}, "text": {"field": "txt"}}}
        ]
      }
    ],
    "spacing": 2
  },
  {
    "width": 1100, "height": 271,
    "view": {"stroke": null},
    "data": {"name": "caption"},
    "encoding": {
      "x": {"field": "col", "type": "quantitative", "scale": {"domain": [106.7, 1206.7], "nice": false, "zero": false}, "axis": null},
      "y": {"field": "line", "type": "quantitative", "scale": {"domain": [-1.6, 10], "nice": false, "zero": false, "reverse": true}, "axis": null}
    },
    "layer": [
      {"transform": [{"filter": "datum.kind == 'head'"}], "mark": {"type": "text", "align": "left", "baseline": "middle", "font": "Open Sans", "fontSize": 17.5, "fontWeight": "bold", "color": "#5f5f5f"}, "encoding": {"text": {"field": "txt"}}},
      {"transform": [{"filter": "datum.kind == 'body'"}], "mark": {"type": "text", "align": "left", "baseline": "middle", "font": "Open Sans", "fontSize": 17.7, "color": "#585858"}, "encoding": {"text": {"field": "txt"}}}
    ]
  }
],
"spacing": 4
}
